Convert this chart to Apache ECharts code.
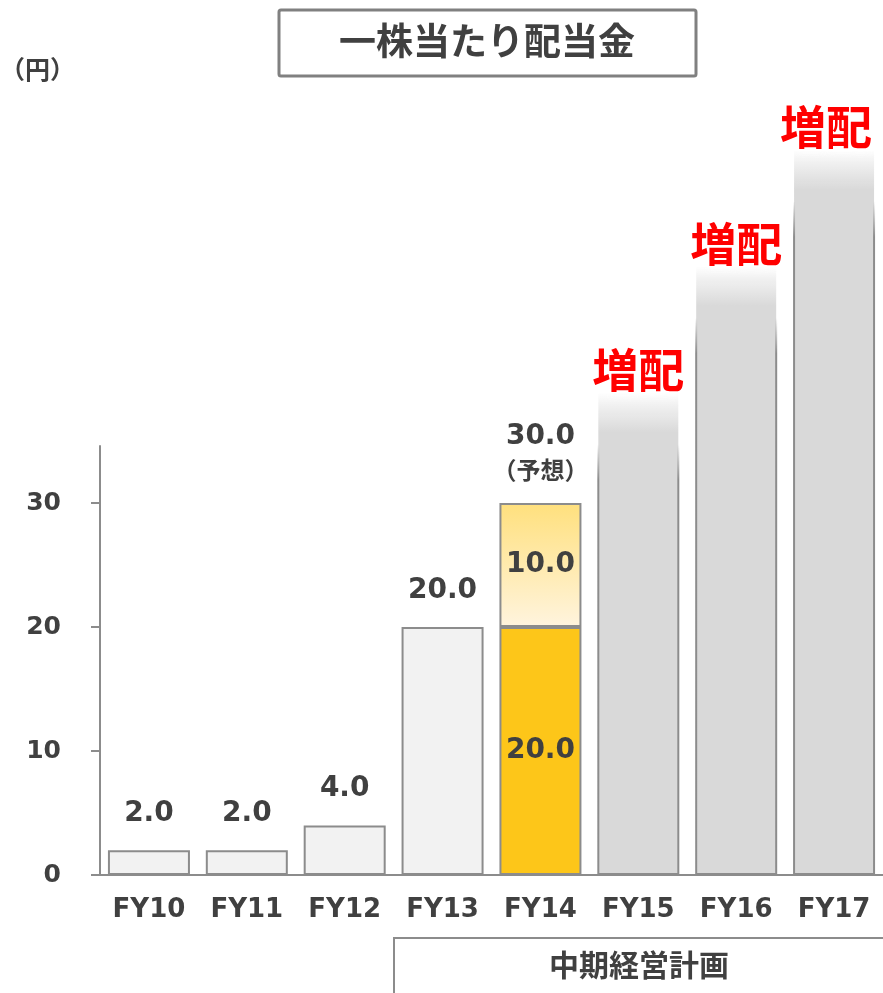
<!DOCTYPE html>
<html>
<head>
<meta charset="utf-8">
<title>一株当たり配当金</title>
<script src="https://cdn.jsdelivr.net/npm/echarts@6/dist/echarts.min.js"></script>
<style>
  html, body { margin: 0; padding: 0; background: #fff; }
  #chart { width: 883px; height: 993px; }
</style>
</head>
<body>
<div id="chart"></div>
<script>
// 年度
var categories = ["FY10", "FY11", "FY12", "FY13", "FY14", "FY15", "FY16", "FY17"];
// 配当（確定分）FY10〜FY14
var baseValues = [2.0, 2.0, 4.0, 20.0, 20.0];
// FY14 上乗せ分（予想）
var upperValues = [null, null, null, null, 10.0];
// FY15〜FY17 増配イメージの棒（目盛りなし、見た目の高さ）
var planValues = [38.9, 49.1, 58.5];
var planLabel = "増配";
// y軸目盛り
var yTicks = [0, 10, 20, 30];

var TEXT = "#404040";
var AXIS = "#8c8c8c";
var NUM_FONT = "'DejaVu Sans', 'Noto Sans CJK JP', sans-serif";
var JP_FONT = "'Noto Sans CJK JP', sans-serif";

var chart = echarts.init(document.getElementById("chart"));

// 合計（棒の上のラベル用）
var totals = baseValues.map(function (v, i) {
  return v + (upperValues[i] || 0);
});
var forecastIndex = upperValues.findIndex(function (v) { return v != null; });

// 下段（確定分）：予想のある年度は黄色で中にラベル
var baseData = baseValues.map(function (v, i) {
  if (i === forecastIndex) {
    return {
      value: v,
      itemStyle: { color: "#fdc619" },
      label: { show: true, position: "inside" }
    };
  }
  return v;
});

// 増配バー：上端をぼかす
var fadeUnits = 3.2;
var planData = categories.map(function (c, i) {
  var k = i - baseValues.length;
  if (k < 0) return "-";
  var v = planValues[k];
  var f = fadeUnits / v;
  var item = {
    value: v,
    itemStyle: {
      color: new echarts.graphic.LinearGradient(0, 0, 0, 1, [
        { offset: 0, color: "rgba(217,217,217,0)" },
        { offset: f * 0.3, color: "rgba(217,217,217,0.35)" },
        { offset: f, color: "#d9d9d9" },
        { offset: 1, color: "#d9d9d9" }
      ]),
      borderColor: new echarts.graphic.LinearGradient(0, 0, 0, 1, [
        { offset: 0, color: "rgba(140,140,140,0)" },
        { offset: f * 1.3, color: "rgba(140,140,140,0)" },
        { offset: f * 2.2, color: AXIS },
        { offset: 1, color: AXIS }
      ])
    }
  };
  // 右端ははみ出さないよう少し左へ
  if (i === categories.length - 1) item.label = { offset: [-8, 0] };
  return item;
});

var option = {
  animation: false,
  grid: [
    { left: 100, width: 786, top: 446, bottom: 118 },
    { left: 100, width: 786, top: 69, bottom: 118 }
  ],
  xAxis: [
    {
      type: "category",
      gridIndex: 0,
      data: categories,
      axisLine: { lineStyle: { color: AXIS, width: 2 } },
      axisTick: { inside: true, length: 9, interval: 0, lineStyle: { color: AXIS, width: 2 } },
      axisLabel: {
        interval: 0,
        margin: 22,
        color: TEXT,
        fontSize: 26,
        fontWeight: "bold",
        fontFamily: NUM_FONT
      }
    },
    { type: "category", gridIndex: 1, data: categories, show: false }
  ],
  yAxis: [
    {
      type: "value",
      gridIndex: 0,
      min: 0,
      max: 34.6,
      splitLine: { show: false },
      axisLine: { show: true, lineStyle: { color: AXIS, width: 2 } },
      axisTick: { show: true, length: 9, customValues: yTicks, lineStyle: { color: AXIS, width: 2 } },
      axisLabel: {
        customValues: yTicks,
        margin: 39,
        color: TEXT,
        fontSize: 25,
        fontWeight: "bold",
        fontFamily: NUM_FONT
      }
    },
    { type: "value", gridIndex: 1, min: 0, max: 65, show: false }
  ],
  series: [
    {
      name: "確定",
      type: "bar",
      xAxisIndex: 0,
      yAxisIndex: 0,
      stack: "dps",
      barWidth: 82,
      data: baseData,
      itemStyle: { color: "#f2f2f2", borderColor: AXIS, borderWidth: 2 },
      label: {
        show: false,
        color: TEXT,
        fontSize: 28,
        fontWeight: "bold",
        fontFamily: NUM_FONT,
        formatter: function (p) { return p.value.toFixed(1); }
      }
    },
    {
      name: "予想",
      type: "bar",
      xAxisIndex: 0,
      yAxisIndex: 0,
      stack: "dps",
      barWidth: 82,
      data: upperValues,
      itemStyle: {
        color: new echarts.graphic.LinearGradient(0, 0, 0, 1, [
          { offset: 0, color: "#ffe07d" },
          { offset: 1, color: "#fff4de" }
        ]),
        borderColor: AXIS,
        borderWidth: 2
      },
      label: {
        show: true,
        position: "inside",
        color: TEXT,
        fontSize: 28,
        fontWeight: "bold",
        fontFamily: NUM_FONT,
        formatter: function (p) { return p.value.toFixed(1); }
      }
    },
    {
      // 合計ラベル
      name: "合計",
      type: "scatter",
      xAxisIndex: 0,
      yAxisIndex: 0,
      symbolSize: 1,
      itemStyle: { color: "rgba(0,0,0,0)", opacity: 1 },
      silent: true,
      data: totals,
      label: {
        show: true,
        position: "top",
        distance: 18,
        color: TEXT,
        opacity: 1,
        formatter: function (p) {
          var s = "{v|" + p.value.toFixed(1) + "}";
          if (p.dataIndex === forecastIndex) s += "\n{s|（予想）}";
          return s;
        },
        rich: {
          v: { color: TEXT, fontSize: 28, fontWeight: "bold", fontFamily: NUM_FONT, lineHeight: 36 },
          s: { color: TEXT, fontSize: 24, fontWeight: "bold", fontFamily: JP_FONT, lineHeight: 30 }
        }
      }
    },
    {
      name: "増配",
      type: "bar",
      xAxisIndex: 1,
      yAxisIndex: 1,
      barWidth: 82,
      data: planData,
      itemStyle: { borderWidth: 2 },
      label: {
        show: true,
        position: "top",
        distance: 0,
        formatter: planLabel,
        color: "#ff0000",
        fontSize: 46,
        fontWeight: "bold",
        fontFamily: JP_FONT,
        textShadowColor: "#fff",
        textShadowBlur: 10
      }
    }
  ],
  graphic: [
    {
      type: "rect",
      shape: { x: 279, y: 10, width: 417, height: 66, r: 2 },
      style: { fill: "#fff", stroke: "#808080", lineWidth: 3 }
    },
    {
      type: "text",
      x: 487,
      y: 41,
      style: {
        text: "一株当たり配当金",
        fill: TEXT,
        font: "bold 37px 'Noto Sans CJK JP'",
        align: "center",
        verticalAlign: "middle"
      }
    },
    {
      type: "text",
      x: 0,
      y: 69,
      style: {
        text: "（円）",
        fill: TEXT,
        font: "bold 25px 'Noto Sans CJK JP'",
        align: "left",
        verticalAlign: "middle"
      }
    },
    {
      type: "rect",
      shape: { x: 394, y: 938, width: 600, height: 100 },
      style: { fill: "none", stroke: AXIS, lineWidth: 2 }
    },
    {
      type: "text",
      x: 639,
      y: 965,
      style: {
        text: "中期経営計画",
        fill: TEXT,
        font: "bold 30px 'Noto Sans CJK JP'",
        align: "center",
        verticalAlign: "middle"
      }
    }
  ]
};

chart.setOption(option);
</script>
</body>
</html>
